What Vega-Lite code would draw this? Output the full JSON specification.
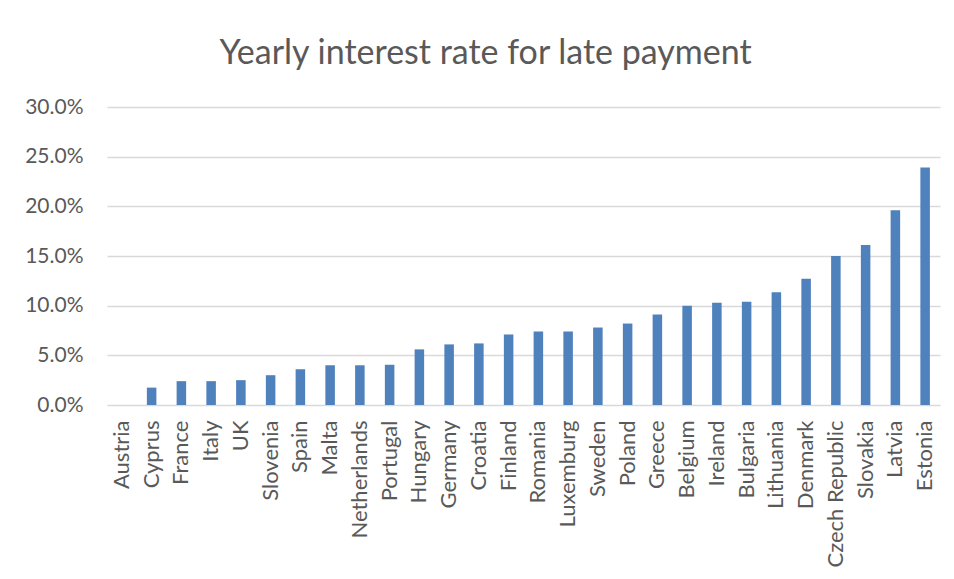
{
  "$schema": "https://vega.github.io/schema/vega-lite/v6.json",
  "width": 833,
  "height": 298,
  "autosize": {"type": "none"},
  "padding": {"left": 107, "top": 107, "right": 14, "bottom": 174},
  "background": "white",
  "title": {
    "text": "Yearly interest rate for late payment",
    "font": "Lato",
    "fontSize": 34,
    "fontWeight": "normal",
    "color": "#595959",
    "anchor": "middle",
    "dx": -38,
    "offset": 25
  },
  "data": {
    "values": [
      {"country": "Austria", "rate": 0},
      {"country": "Cyprus", "rate": 0.0175},
      {"country": "France", "rate": 0.024},
      {"country": "Italy", "rate": 0.024},
      {"country": "UK", "rate": 0.025},
      {"country": "Slovenia", "rate": 0.03},
      {"country": "Spain", "rate": 0.036},
      {"country": "Malta", "rate": 0.04},
      {"country": "Netherlands", "rate": 0.04},
      {"country": "Portugal", "rate": 0.0405},
      {"country": "Hungary", "rate": 0.056},
      {"country": "Germany", "rate": 0.061},
      {"country": "Croatia", "rate": 0.062},
      {"country": "Finland", "rate": 0.071},
      {"country": "Romania", "rate": 0.074},
      {"country": "Luxemburg", "rate": 0.074},
      {"country": "Sweden", "rate": 0.078},
      {"country": "Poland", "rate": 0.082},
      {"country": "Greece", "rate": 0.091},
      {"country": "Belgium", "rate": 0.1},
      {"country": "Ireland", "rate": 0.103},
      {"country": "Bulgaria", "rate": 0.104},
      {"country": "Lithuania", "rate": 0.1135},
      {"country": "Denmark", "rate": 0.127},
      {"country": "Czech Republic", "rate": 0.15},
      {"country": "Slovakia", "rate": 0.161},
      {"country": "Latvia", "rate": 0.196},
      {"country": "Estonia", "rate": 0.239}
    ]
  },
  "mark": {"type": "bar", "color": "#4f81bd"},
  "encoding": {
    "x": {
      "field": "country",
      "type": "nominal",
      "sort": null,
      "scale": {"paddingInner": 0.68, "paddingOuter": 0.34},
      "axis": {
        "title": null,
        "labelAngle": -90,
        "labelFont": "Lato",
        "labelFontSize": 22,
        "labelColor": "#595959",
        "labelPadding": 15,
        "labelOverlap": false,
        "ticks": false,
        "domain": false
      }
    },
    "y": {
      "field": "rate",
      "type": "quantitative",
      "scale": {"domain": [0, 0.3], "nice": false},
      "axis": {
        "title": null,
        "format": ".1%",
        "values": [0, 0.05, 0.1, 0.15, 0.2, 0.25, 0.3],
        "labelFont": "Lato",
        "labelFontSize": 21,
        "labelColor": "#595959",
        "labelPadding": 24,
        "ticks": false,
        "domain": false,
        "grid": true,
        "gridColor": "#d9d9d9",
        "gridWidth": 1.5
      }
    }
  },
  "config": {
    "view": {"stroke": null}
  }
}
